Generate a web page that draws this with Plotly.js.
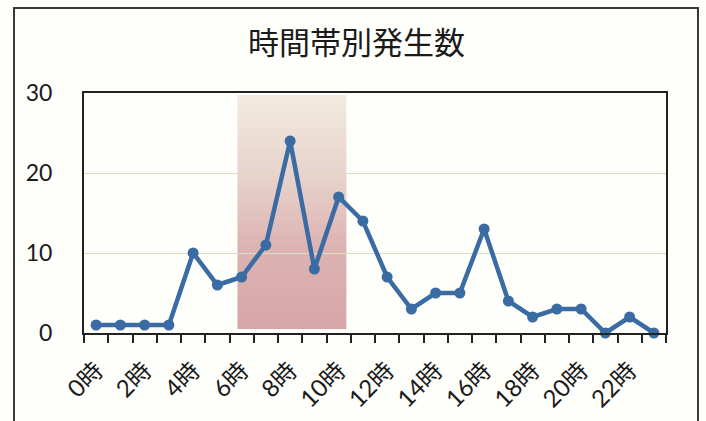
<!DOCTYPE html>
<html>
<head>
<meta charset="utf-8">
<script src="https://cdn.plot.ly/plotly-3.0.1.min.js"></script>
<style>
  html, body { margin: 0; padding: 0; background: #fefefb; overflow: hidden; }
  #wrap { position: relative; width: 706px; height: 421px; }
  #frame { position: absolute; left: 13px; top: 7px; width: 686px; height: 480px;
           border: 2px solid #3a3a3a; box-sizing: border-box; }
  #chart { position: absolute; left: 0; top: 0; width: 706px; height: 421px; }
</style>
</head>
<body>
<div id="wrap">
  <div id="frame"></div>
  <div id="chart"></div>
</div>
<script>
// ---- data ----
const hours = [0,1,2,3,4,5,6,7,8,9,10,11,12,13,14,15,16,17,18,19,20,21,22,23];
const hourLabels = hours.map(h => h + "時");
const counts = [1,1,1,1,10,6,7,11,24,8,17,14,7,3,5,5,13,4,2,3,3,0,2,0];
const tickHours = [0,2,4,6,8,10,12,14,16,18,20,22];
const tickLabels = tickHours.map(h => h + "時");
const chartTitle = "時間帯別発生数";

// ---- highlight band (morning hours) ----
const bandX0 = 5.82, bandX1 = 10.33, bandY0 = 0.5, bandY1 = 29.75;
const svg = '<svg xmlns="http://www.w3.org/2000/svg" width="100" height="100" preserveAspectRatio="none">' +
  '<defs><linearGradient id="g" x1="0" y1="0" x2="0" y2="1">' +
  '<stop offset="0" stop-color="#f2ebe0"/>' +
  '<stop offset="0.35" stop-color="#e7d2cc"/>' +
  '<stop offset="0.65" stop-color="#dcb3b2"/>' +
  '<stop offset="1" stop-color="#d7a6a9"/>' +
  '</linearGradient></defs><rect width="100" height="100" fill="url(#g)"/></svg>';
const svgUri = 'data:image/svg+xml;charset=utf-8,' + encodeURIComponent(svg);

const fontNum = '"Lato", "Noto Sans CJK JP", sans-serif';

const trace = {
  x: hours,
  y: counts,
  type: 'scatter',
  mode: 'lines+markers',
  line: { color: '#3b6ba3', width: 4.5 },
  marker: { color: '#3b6ba3', size: 11 },
  hoverinfo: 'x+y',
  cliponaxis: false
};

const layout = {
  width: 706, height: 421,
  margin: { l: 84, r: 40, t: 93, b: 88 },
  paper_bgcolor: 'rgba(0,0,0,0)',
  plot_bgcolor: 'rgba(0,0,0,0)',
  showlegend: false,
  title: {
    text: chartTitle,
    font: { family: '"Noto Sans CJK JP", sans-serif', size: 31, color: '#1a1a1a' },
    x: 0.505, xanchor: 'center', xref: 'container',
    y: 1 - 43/421, yanchor: 'middle', yref: 'container'
  },
  xaxis: {
    type: 'linear',
    range: [-0.5, 23.5],
    tickmode: 'array',
    tickvals: tickHours,
    ticktext: tickLabels,
    tickangle: -45,
    ticks: '',
    tickfont: { family: fontNum, size: 24, color: '#1a1a1a' },
    showgrid: false,
    zeroline: false,
    showline: true, mirror: true, linecolor: '#222', linewidth: 2,
    minor: { ticks: 'outside', tick0: -0.5, dtick: 1, ticklen: 8, tickwidth: 2, tickcolor: '#222', showgrid: false },
    ticklabelstandoff: 12,
    fixedrange: true
  },
  yaxis: {
    range: [0, 30],
    tickmode: 'linear', tick0: 0, dtick: 10,
    ticks: '',
    tickfont: { family: fontNum, size: 23, color: '#1a1a1a' },
    showgrid: true, gridcolor: '#d9dfbd', gridwidth: 1,
    zeroline: false,
    showline: true, mirror: true, linecolor: '#222', linewidth: 2,
    ticklabelstandoff: 25,
    fixedrange: true
  },
  images: [{
    source: svgUri,
    xref: 'x', yref: 'y',
    x: bandX0, y: bandY1,
    sizex: bandX1 - bandX0, sizey: bandY1 - bandY0,
    xanchor: 'left', yanchor: 'top',
    sizing: 'stretch',
    layer: 'below',
    opacity: 1
  }]
};

Plotly.newPlot('chart', [trace], layout, { displayModeBar: false, staticPlot: true });
</script>
</body>
</html>
